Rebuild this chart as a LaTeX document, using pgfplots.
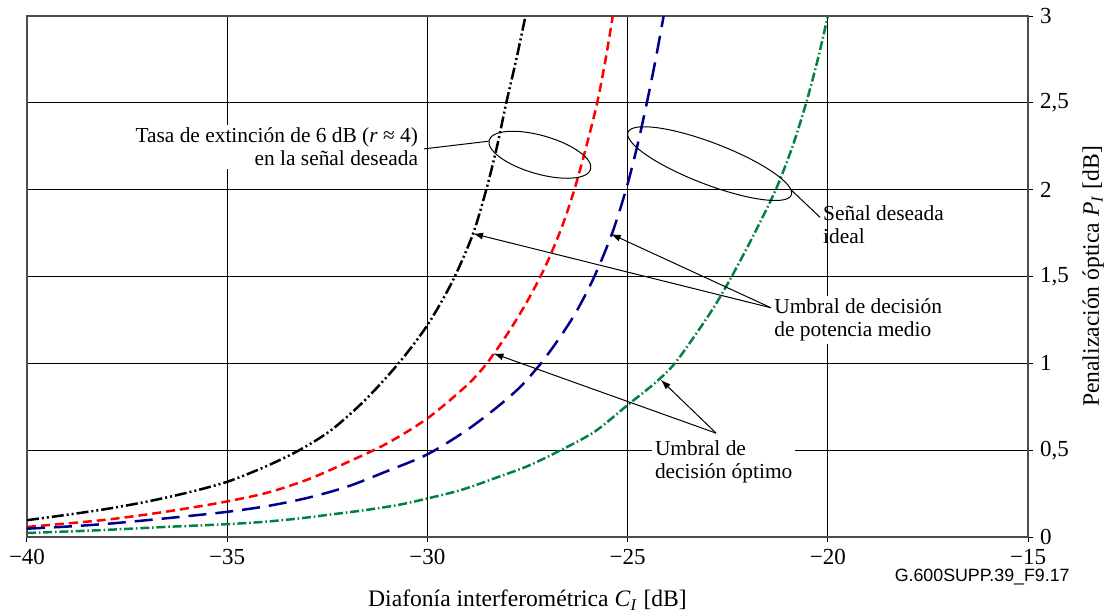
\documentclass[border=0pt]{standalone}
\usepackage{fontspec}
\setmainfont{Liberation Serif}
\newfontfamily\sansf{Liberation Sans}
\usepackage{pgfplots}
\pgfplotsset{compat=1.18}
\usetikzlibrary{arrows.meta,shapes.geometric}
\definecolor{cblue}{RGB}{0,0,140}
\definecolor{cgreen}{RGB}{0,130,65}
\definecolor{cred}{RGB}{255,0,0}
\begin{document}
\begin{tikzpicture}
\useasboundingbox (-13.5pt,-37.5pt) rectangle (540pt,268.5pt);
\begin{axis}[
 at={(0,0)}, anchor=south west,
 scale only axis, width=500.5pt, height=260.5pt,
 xmin=-40, xmax=-15, ymin=0, ymax=3,
 xtick={-40,-35,-30,-25,-20,-15},
 xticklabels={−40,−35,−30,−25,−20,−15},
 ytick={0,0.5,1,1.5,2,2.5,3},
 yticklabels={0,{0,5},1,{1,5},2,{2,5},3},
 yticklabel pos=right, ylabel near ticks,
 xtick pos=bottom, ytick pos=right,
 tick align=outside, major tick length=2.5pt,
 grid=major, grid style={black, line width=0.5pt},
 axis line style={draw=black!70, line width=0.7pt},
 tick style={black, line width=0.5pt},
 tick label style={font=\fontsize{11.5}{13}\selectfont},
 xlabel={Diafonía interferométrica \textit{C}\textsubscript{\textit{I}} [dB]},
 ylabel={Penalización óptica \textit{P}\textsubscript{\textit{I}} [dB]},
 label style={font=\fontsize{11.8}{13}\selectfont},
 xlabel style={yshift=-6pt},
 clip=false,
]
% black: extinction 6 dB, mean power threshold
\addplot[black, line width=1.25pt, smooth, tension=0.5, dash pattern=on 6pt off 1.5pt on 1pt off 1.5pt on 1pt off 1.5pt] coordinates {
(-40,0.097) (-39,0.128) (-38,0.162) (-37,0.204) (-36,0.255) (-35,0.318) (-34.05,0.405) (-33.2,0.50)
(-32.4,0.616) (-31.55,0.79) (-30.72,1.0) (-30,1.22) (-29.38,1.47) (-28.87,1.74) (-28.53,2.0)
(-28.26,2.25) (-28.03,2.5) (-27.78,2.75) (-27.55,3.0)};
% red: extinction 6 dB, optimum threshold
\addplot[cred, line width=1.25pt, smooth, tension=0.5, dash pattern=on 4.5pt off 2.5pt] coordinates {
(-40,0.058) (-39,0.078) (-38,0.10) (-37,0.13) (-36,0.165) (-35,0.205) (-34,0.255) (-33,0.33)
(-32,0.43) (-31,0.54) (-30,0.683) (-29.05,0.866) (-28.55,0.99) (-28.0,1.17) (-27.5,1.36)
(-27.05,1.56) (-26.65,1.78) (-26.33,2.0) (-26.03,2.25) (-25.76,2.5) (-25.55,2.75) (-25.37,3.0)};
% blue: ideal, mean power threshold
\addplot[cblue, line width=1.25pt, smooth, tension=0.5, dash pattern=on 9pt off 4.5pt] coordinates {
(-40,0.048) (-39,0.06) (-38,0.076) (-37,0.097) (-36,0.12) (-35,0.145) (-34,0.178) (-33,0.225)
(-32,0.29) (-31,0.38) (-30,0.476) (-29.05,0.61) (-28.3,0.74) (-27.7,0.86) (-27.2,0.99)
(-26.75,1.13) (-26.3,1.29) (-25.85,1.49) (-25.4,1.74) (-25.04,2.0) (-24.76,2.25) (-24.52,2.5)
(-24.3,2.75) (-24.1,3.0)};
% green: ideal, optimum threshold
\addplot[cgreen, line width=1.25pt, smooth, tension=0.5, dash pattern=on 4.5pt off 1.4pt on 0.8pt off 1.4pt] coordinates {
(-40,0.023) (-38.2,0.039) (-36.55,0.058) (-35,0.074) (-34.05,0.088) (-33.2,0.107) (-32.4,0.13)
(-31.55,0.155) (-30.72,0.185) (-30,0.222) (-29.14,0.272) (-28.31,0.339) (-27.48,0.41) (-26.67,0.5)
(-25.82,0.607) (-25,0.76) (-24.32,0.886) (-23.82,1.0) (-23.2,1.2)
(-22.8,1.34) (-22.4,1.5) (-21.85,1.74) (-21.3,2.0) (-20.88,2.25) (-20.54,2.5) (-20.25,2.75) (-20.0,3.0)};

% annotation 1
\node[anchor=east, fill=white, inner sep=1.5pt, align=right, font=\fontsize{10.7}{11.5}\selectfont]
  at (axis cs:-30.15,2.247) {Tasa de extinción de 6 dB (\textit{r} ≈ 4)\\en la señal deseada};
\draw[line width=0.5pt] (axis cs:-30.08,2.235) -- (axis cs:-28.47,2.279);
\node[draw, ellipse, line width=0.5pt, minimum width=52.8pt, minimum height=19.2pt, inner sep=0pt, rotate=-16]
  at (axis cs:-27.19,2.201) {};
% annotation ellipse 2
\node[draw, ellipse, line width=0.5pt, minimum width=87.5pt, minimum height=20.8pt, inner sep=0pt, rotate=-21]
  at (axis cs:-22.95,2.15) {};
\draw[line width=0.5pt] (axis cs:-20.94,2.004) -- (axis cs:-20.19,1.84);
\node[anchor=west, inner sep=1.5pt, align=left, font=\fontsize{10.7}{11.5}\selectfont]
  at (axis cs:-20.2,1.80) {Señal deseada\\ideal};
% annotation 2
\node[anchor=west, fill=white, inner sep=1.5pt, align=left, font=\fontsize{10.7}{11.5}\selectfont]
  at (axis cs:-21.42,1.25) {Umbral de decisión\\de potencia medio};
\draw[line width=0.5pt, -{Latex[length=5pt,width=3.5pt]}] (axis cs:-21.42,1.32) -- (axis cs:-28.86,1.747);
\draw[line width=0.5pt, -{Latex[length=5pt,width=3.5pt]}] (axis cs:-21.42,1.32) -- (axis cs:-25.42,1.745);
% annotation 3
\node[anchor=west, fill=white, inner sep=1.5pt, align=left, font=\fontsize{10.7}{11.5}\selectfont]
  at (axis cs:-24.4,0.43) {Umbral de\\decisión óptimo};
\draw[line width=0.5pt, -{Latex[length=5pt,width=3.5pt]}] (axis cs:-22.79,0.598) -- (axis cs:-28.35,1.057);
\draw[line width=0.5pt, -{Latex[length=5pt,width=3.5pt]}] (axis cs:-22.79,0.598) -- (axis cs:-24.17,0.905);
\end{axis}
\node[anchor=east, inner sep=0pt, font=\sansf\fontsize{8.9}{10}\selectfont] at (521.5pt,-20pt) {G.600SUPP.39\_F9.17};
\end{tikzpicture}
\end{document}
